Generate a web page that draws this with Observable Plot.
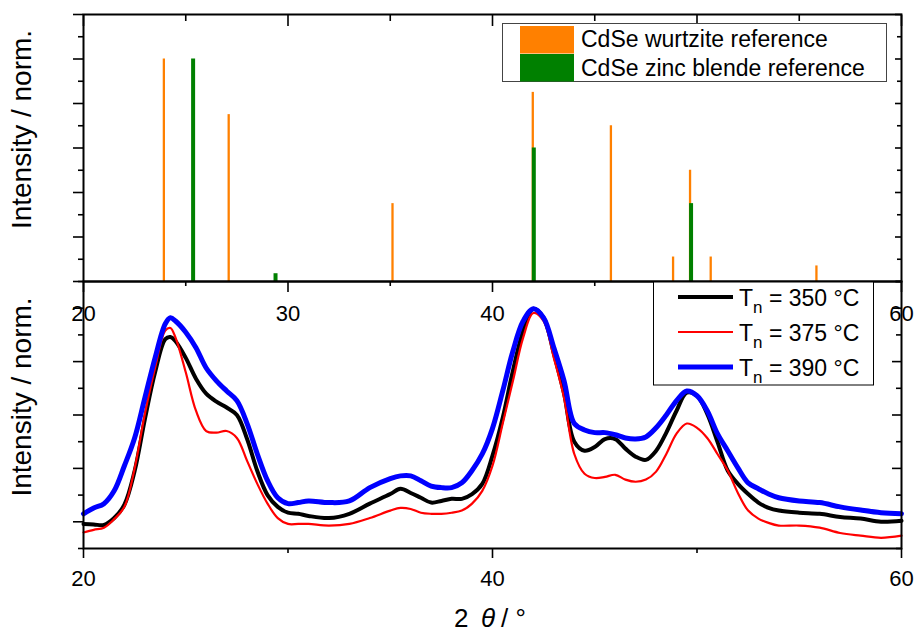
<!DOCTYPE html>
<html>
<head>
<meta charset="utf-8">
<script src="https://cdn.jsdelivr.net/npm/d3@7"></script>
<script src="https://cdn.jsdelivr.net/npm/@observablehq/plot@0.6"></script>
<style>
  html, body { margin: 0; padding: 0; background: #fff; }
  #wrap { position: relative; width: 914px; height: 635px; overflow: hidden; font-family: "Liberation Sans", Arial, sans-serif; }
  #wrap > svg { position: absolute; left: 0; top: 0; }
</style>
</head>
<body>
<div id="wrap"></div>
<script>
// ---------- reference stick patterns (top panel) ----------
const wurtziteTheta = [23.93, 25.36, 27.10, 35.11, 41.97, 45.79, 48.83, 49.66, 50.67, 55.84];
const wurtziteInt   = [100, 70, 75, 35, 85, 70, 11, 50, 11, 7];
const zincTheta = [25.36, 29.39, 42.02, 49.71];
const zincInt   = [100, 3.5, 60, 35];
const refNames = ["CdSe wurtzite reference", "CdSe zinc blende reference"];
const refColors = ["#FF8000", "#008000"];

// ---------- measured patterns (bottom panel) ----------
const theta = [20,20.5,21,21.5,22,22.5,23,23.5,24,24.25,24.5,25,25.5,26,26.5,27,27.5,28,28.5,29,29.5,30,30.5,31,32,33,34,35,35.5,36,36.5,37,37.5,38,38.5,39,39.5,40,40.5,41,41.5,42,42.5,43,43.5,44,44.5,45,45.5,46,46.5,47,47.5,48,48.5,49,49.5,50,50.5,51,51.5,52,52.5,53,53.5,54,55,56,57,58,59,60];
const int350 = [-0.04,-0.05,-0.06,0.07,0.32,0.95,1.92,2.80,3.42,3.46,3.38,3.07,2.68,2.40,2.25,2.14,2.00,1.55,0.95,0.50,0.28,0.17,0.15,0.11,0.07,0.15,0.34,0.52,0.62,0.54,0.45,0.36,0.39,0.43,0.43,0.52,0.71,1.24,1.95,2.83,3.58,3.99,3.82,3.15,2.40,1.50,1.33,1.40,1.55,1.55,1.37,1.22,1.16,1.33,1.67,2.08,2.42,2.36,2.02,1.50,0.96,0.71,0.52,0.36,0.26,0.21,0.17,0.15,0.09,0.06,0.00,0.02];
const int375 = [-0.20,-0.15,-0.11,0.05,0.28,1.00,2.02,2.88,3.58,3.63,3.45,2.80,2.08,1.70,1.67,1.70,1.57,1.14,0.71,0.34,0.07,-0.04,-0.04,-0.04,-0.07,-0.04,0.07,0.21,0.26,0.24,0.17,0.15,0.15,0.17,0.21,0.34,0.58,1.05,1.84,2.64,3.45,3.91,3.76,3.07,2.32,1.27,0.90,0.82,0.84,0.88,0.79,0.75,0.79,0.94,1.27,1.65,1.84,1.76,1.57,1.27,0.96,0.54,0.21,0.06,-0.02,-0.07,-0.07,-0.11,-0.21,-0.26,-0.30,-0.26];
const int390 = [0.15,0.26,0.34,0.58,1.05,1.57,2.32,3.07,3.71,3.82,3.76,3.55,3.26,2.88,2.64,2.45,2.27,1.84,1.27,0.77,0.45,0.34,0.36,0.39,0.36,0.39,0.64,0.81,0.86,0.86,0.77,0.67,0.64,0.64,0.73,0.96,1.27,1.75,2.45,3.20,3.76,3.99,3.82,3.26,2.64,1.84,1.72,1.67,1.67,1.63,1.57,1.55,1.59,1.76,2.00,2.27,2.45,2.36,2.08,1.65,1.33,1.01,0.73,0.62,0.52,0.45,0.39,0.36,0.28,0.22,0.17,0.15];
const seriesTemps = ["350", "375", "390"];
const seriesColors = ["#000000", "#FF0000", "#0000FF"];
const seriesWidths = [4, 2.2, 5];

// ---------- tick values ----------
const xTopMajor = [20, 30, 40, 50, 60];
const xTopMinor = [25, 35, 45, 55];
const xBotMajor = [20, 40, 60];
const xBotMinor = [30, 50];
const yTopMajor = [0, 20, 40, 60, 80, 100, 120];
const yTopMinor = [10, 30, 50, 70, 90, 110];
const yBotMajor = [0, 1, 2, 3, 4];
const yBotMinor = [-0.5, 0.5, 1.5, 2.5, 3.5, 4.5];

const yLabel = "Intensity / norm.";
const FONT = "Liberation Sans, Arial, sans-serif";
const W = 914;
const tk = {strokeWidth: 1.6, label: null};
const noText = () => "";

const wz = wurtziteTheta.map((t, i) => ({theta: t, I: wurtziteInt[i]}));
const zb = zincTheta.map((t, i) => ({theta: t, I: zincInt[i]}));

const topPlot = Plot.plot({
  width: W, height: 330,
  marginLeft: 83, marginRight: 13, marginTop: 14, marginBottom: 49,
  x: {domain: [20, 60]},
  y: {domain: [0, 120]},
  style: {fontFamily: FONT, background: "transparent", overflow: "visible", color: "black"},
  marks: [
    Plot.ruleX(wz, {x: "theta", y1: 0, y2: "I", stroke: refColors[0], strokeWidth: 2.3}),
    Plot.ruleX(zb, {x: "theta", y1: 0, y2: "I", stroke: refColors[1], strokeWidth: 4}),
    Plot.frame({stroke: "black", strokeWidth: 2}),
    Plot.axisX({...tk, anchor: "bottom", ticks: xTopMajor, tickSize: 11, tickPadding: 13, fontSize: 22, tickFormat: d => String(d)}),
    Plot.axisX({...tk, anchor: "bottom", ticks: xTopMinor, tickSize: 5, tickFormat: noText}),
    Plot.axisX({...tk, anchor: "top", ticks: xTopMajor, tickSize: -11, tickFormat: noText}),
    Plot.axisX({...tk, anchor: "top", ticks: xTopMinor, tickSize: -6, tickFormat: noText}),
    Plot.axisY({...tk, anchor: "left", ticks: yTopMajor, tickSize: 10, tickFormat: noText}),
    Plot.axisY({...tk, anchor: "left", ticks: yTopMinor, tickSize: 5, tickFormat: noText}),
    Plot.axisY({...tk, anchor: "right", ticks: yTopMajor, tickSize: -7, tickFormat: noText}),
    Plot.axisY({...tk, anchor: "right", ticks: yTopMinor, tickSize: -5, tickFormat: noText}),
    Plot.text([yLabel], {frameAnchor: "left", textAnchor: "middle", lineAnchor: "middle", rotate: -90, dx: -61, dy: -18.5, fontSize: 28, fill: "black"})
  ]
});

const series = seriesTemps.map((t, k) => ({
  temp: t,
  color: seriesColors[k],
  width: seriesWidths[k],
  data: theta.map((th, i) => ({theta: th, I: [int350, int375, int390][k][i]}))
}));

const bottomPlot = Plot.plot({
  width: W, height: 635,
  marginLeft: 83, marginRight: 13, marginTop: 281, marginBottom: 87,
  x: {domain: [20, 60]},
  y: {domain: [-0.5, 4.5]},
  style: {fontFamily: FONT, background: "transparent", overflow: "visible", color: "black"},
  marks: [
    ...series.map(s => Plot.line(s.data, {x: "theta", y: "I", stroke: s.color, strokeWidth: s.width, curve: "catmull-rom", strokeLinejoin: "round"})),
    Plot.frame({stroke: "black", strokeWidth: 2}),
    Plot.axisX({...tk, anchor: "bottom", ticks: xBotMajor, tickSize: 10, tickPadding: 12, fontSize: 22, tickFormat: d => String(d)}),
    Plot.axisX({...tk, anchor: "bottom", ticks: xBotMinor, tickSize: 5, tickFormat: noText}),
    Plot.axisY({...tk, anchor: "left", ticks: yBotMajor, tickSize: 10, tickFormat: noText}),
    Plot.axisY({...tk, anchor: "left", ticks: yBotMinor, tickSize: 5, tickFormat: noText}),
    Plot.axisY({...tk, anchor: "right", ticks: yBotMajor, tickSize: -10, tickFormat: noText}),
    Plot.axisY({...tk, anchor: "right", ticks: yBotMinor, tickSize: -6, tickFormat: noText}),
    Plot.text([yLabel], {frameAnchor: "left", textAnchor: "middle", lineAnchor: "middle", rotate: -90, dx: -61, dy: -18, fontSize: 28, fill: "black"})
  ]
});

const wrap = document.getElementById("wrap");
wrap.appendChild(topPlot);
wrap.appendChild(bottomPlot);

// ---------- legends and x-axis title overlay ----------
const svg = d3.select(wrap).append("svg")
  .attr("width", W).attr("height", 635)
  .style("font-family", FONT);

// legend 1 (reference patterns)
const g1 = svg.append("g");
g1.append("rect").attr("x", 502.5).attr("y", 23.5).attr("width", 384).attr("height", 58)
  .attr("fill", "white").attr("stroke", "#444").attr("stroke-width", 1);
refNames.forEach((name, i) => {
  g1.append("rect").attr("x", 520).attr("y", 26 + i * 28).attr("width", 54).attr("height", 27.5)
    .attr("fill", refColors[i]);
  g1.append("text").attr("x", 581).attr("y", 47 + i * 29).attr("font-size", 23).attr("fill", "black").text(name);
});

// legend 2 (measured patterns)
const g2 = svg.append("g");
g2.append("rect").attr("x", 653.5).attr("y", 282).attr("width", 220).attr("height", 103)
  .attr("fill", "white").attr("stroke", "black").attr("stroke-width", 1);
series.forEach((s, i) => {
  const yy = 297 + i * 35;
  g2.append("line").attr("x1", 678).attr("x2", 733).attr("y1", yy).attr("y2", yy)
    .attr("stroke", s.color).attr("stroke-width", s.width);
  const t = g2.append("text").attr("x", 739).attr("y", yy + 9).attr("font-size", 23).attr("fill", "black");
  t.append("tspan").text("T");
  t.append("tspan").attr("font-size", 17).attr("dy", 7).text("n");
  t.append("tspan").attr("dy", -7).text(` = ${s.temp} °C`);
});

// x-axis title
const xt = svg.append("text").attr("x", 454).attr("y", 627).attr("text-anchor", "start")
  .attr("font-size", 26).attr("fill", "black");
xt.append("tspan").text("2");
xt.append("tspan").attr("x", 481).attr("font-style", "italic").text("θ");
xt.append("tspan").attr("x", 501).text("/ °");
</script>
</body>
</html>
